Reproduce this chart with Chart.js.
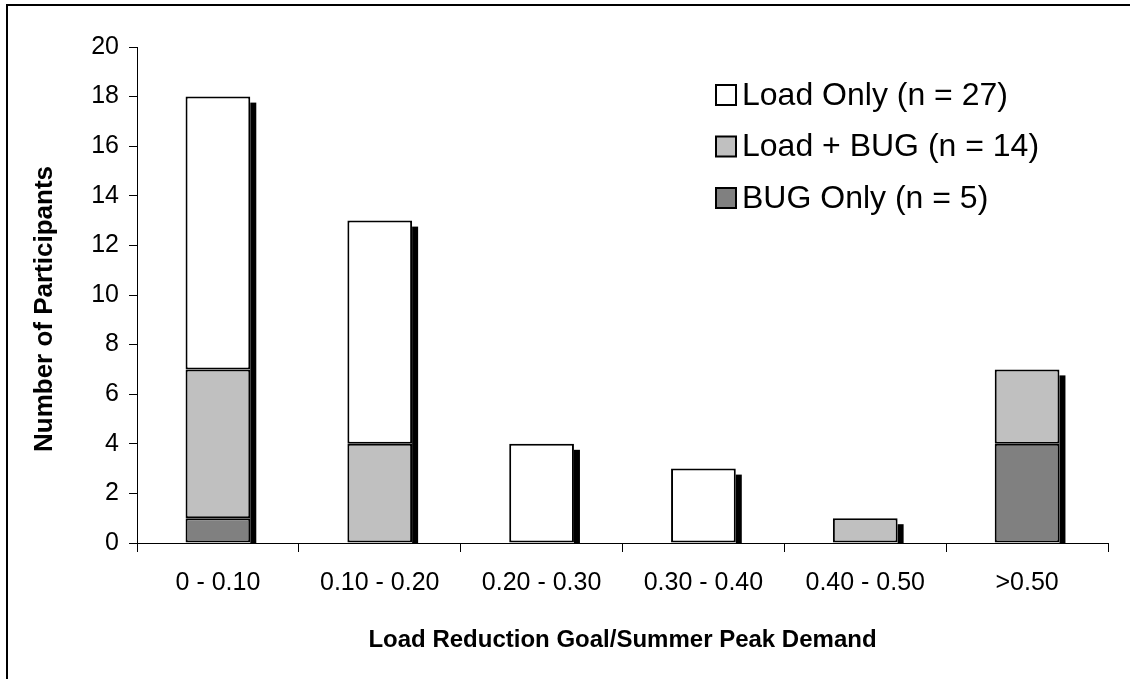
<!DOCTYPE html>
<html>
<head>
<meta charset="utf-8">
<script src="https://cdn.jsdelivr.net/npm/chart.js@4"></script>
<style>
  html, body { margin: 0; padding: 0; background: #fff; }
  canvas { display: block; }
</style>
</head>
<body>
<canvas id="myChart" width="1130" height="679"></canvas>
<script>
var categories = ['0 - 0.10', '0.10 - 0.20', '0.20 - 0.30', '0.30 - 0.40', '0.40 - 0.50', '>0.50'];
var bugOnly = [1, 0, 0, 0, 0, 4];
var loadBug = [6, 4, 0, 0, 1, 3];
var loadOnly = [11, 9, 4, 3, 0, 0];
var yTicks = [0, 2, 4, 6, 8, 10, 12, 14, 16, 18, 20];
var yTitle = 'Number of Participants';

var fontName = "'Liberation Sans', Arial, sans-serif";

// black drop shadow on the right of every stack
const barShadow = {
    id: 'barShadow',
    beforeDatasetsDraw(chart) {
        const ctx = chart.ctx;
        const base = chart.scales.y.getPixelForValue(0);
        ctx.save();
        ctx.fillStyle = '#000';
        categories.forEach((c, i) => {
            let top = null;
            chart.data.datasets.forEach((ds, d) => {
                if (ds.data[i] > 0) top = chart.getDatasetMeta(d).data[i];
            });
            if (!top) return;
            const right = top.x + top.width / 2;
            ctx.fillRect(right, top.y + 6, 6, base - top.y - 6);
        });
        ctx.restore();
    }
};

// legend inside the plot (top item = last dataset), y title and frame
const extras = {
    id: 'extras',
    afterDraw(chart) {
        const ctx = chart.ctx;
        ctx.save();
        ctx.font = '32px ' + fontName;
        ctx.textBaseline = 'middle';
        const items = chart.data.datasets.slice().reverse();
        items.forEach((ds, k) => {
            const cy = 95 + k * 51.5;
            ctx.fillStyle = ds.backgroundColor;
            ctx.fillRect(716, cy - 10, 20, 20);
            ctx.lineWidth = 2;
            ctx.strokeStyle = '#000';
            ctx.strokeRect(716, cy - 10, 20, 20);
            ctx.fillStyle = '#000';
            ctx.fillText(ds.label, 742, cy + 1);
        });

        ctx.save();
        ctx.translate(45, 309);
        ctx.rotate(-Math.PI / 2);
        ctx.font = 'bold 26px ' + fontName;
        ctx.textAlign = 'center';
        ctx.fillText(yTitle, 0, 0);
        ctx.restore();

        ctx.lineWidth = 2;
        ctx.beginPath();
        ctx.moveTo(7, 679);
        ctx.lineTo(7, 5);
        ctx.lineTo(1130, 5);
        ctx.stroke();
        ctx.restore();
    }
};

new Chart(document.getElementById('myChart'), {
    type: 'bar',
    data: {
        labels: categories,
        datasets: [
            { label: 'BUG Only (n = 5)', data: bugOnly, backgroundColor: '#808080', borderColor: '#000', borderWidth: 2, borderSkipped: false },
            { label: 'Load + BUG (n = 14)', data: loadBug, backgroundColor: '#c0c0c0', borderColor: '#000', borderWidth: 2, borderSkipped: false },
            { label: 'Load Only (n = 27)', data: loadOnly, backgroundColor: '#ffffff', borderColor: '#000', borderWidth: 2, borderSkipped: false }
        ]
    },
    options: {
        responsive: false,
        animation: false,
        categoryPercentage: 1,
        barPercentage: 0.4,
        layout: { padding: { left: 0, top: 47, right: 22, bottom: 0 } },
        plugins: {
            legend: { display: false },
            tooltip: { enabled: false }
        },
        scales: {
            x: {
                stacked: true,
                afterFit: s => { s.height = 136; },
                border: { display: true, color: '#000', width: 1 },
                grid: { offset: true, drawOnChartArea: false, color: '#000', tickLength: 9 },
                ticks: { color: '#000', padding: 16, font: { family: fontName, size: 25 }, maxRotation: 0 },
                title: {
                    display: true,
                    text: 'Load Reduction Goal/Summer Peak Demand',
                    color: '#000',
                    font: { family: fontName, size: 24, weight: 'bold' },
                    padding: { top: 0, bottom: 24 }
                }
            },
            y: {
                stacked: true,
                min: 0,
                max: 20,
                afterFit: s => { s.width = 137; },
                afterBuildTicks: s => { s.ticks = yTicks.map(v => ({ value: v })); },
                border: { display: true, color: '#000', width: 1 },
                grid: { drawOnChartArea: false, color: '#000', tickLength: 8 },
                ticks: { color: '#000', padding: 10, font: { family: fontName, size: 25 } }
            }
        }
    },
    plugins: [barShadow, extras]
});
</script>
</body>
</html>
